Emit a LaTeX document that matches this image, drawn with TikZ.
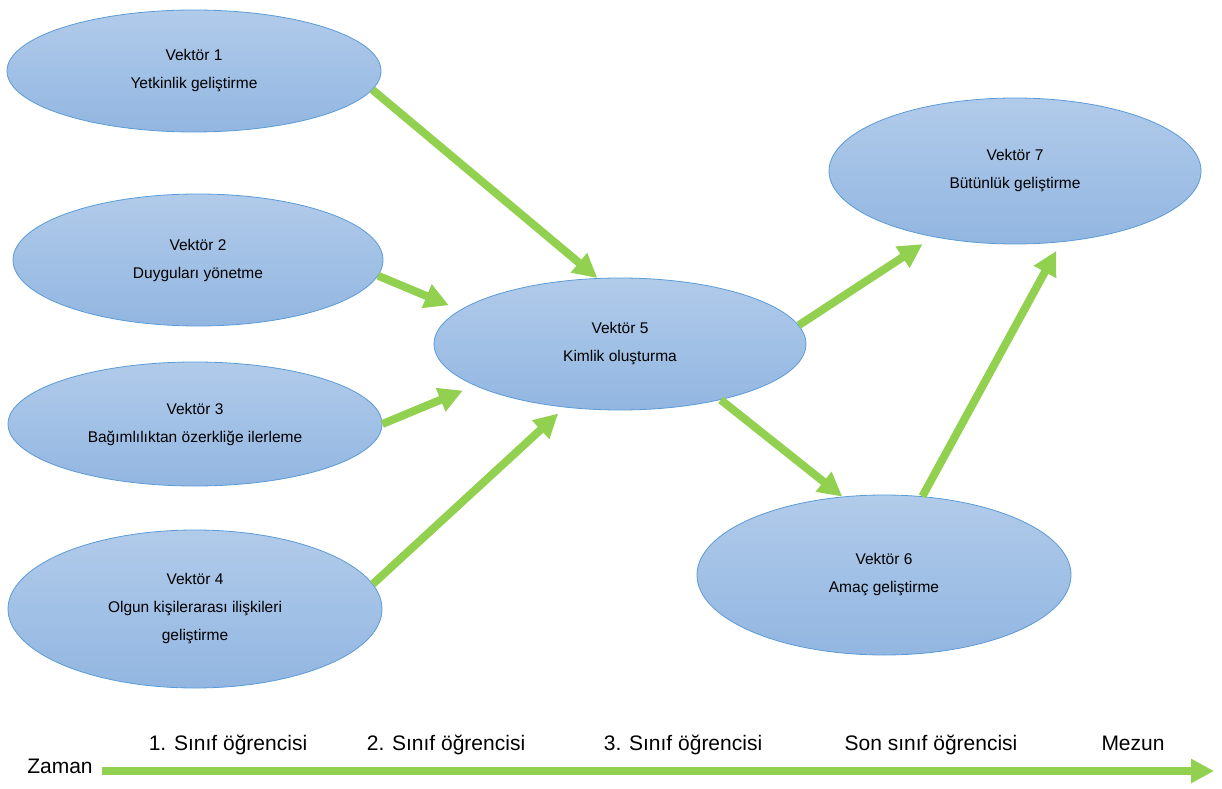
\documentclass[tikz,border=0pt]{standalone}
\usepackage{fontspec}
\setmainfont{Liberation Sans}
\usetikzlibrary{shapes.geometric,arrows.meta}
\definecolor{vborder}{RGB}{91,155,213}
\definecolor{vtop}{RGB}{177,203,234}
\definecolor{vbottom}{RGB}{146,182,225}
\definecolor{flowgreen}{RGB}{146,208,80}
\begin{document}
\begin{tikzpicture}[x=1pt,y=1pt,
vektor/.style ={ellipse, draw=vborder, line width=0.8pt,
  top color=vtop, bottom color=vbottom, inner sep=0pt,
  align=center, font=\fontsize{15.5}{28}\selectfont
},
flow/.style ={draw=flowgreen, line width=8pt,
  -{Triangle[length=24pt,width=24pt]}
},
sinif/.style ={anchor=base, font=\fontsize{21}{24}\selectfont}]
\useasboundingbox (0,0) rectangle (1222,788);
% vectors
\node (v1) at (194,717) [vektor, minimum width=374pt, minimum height=122pt] {Vektör 1\\Yetkinlik geliştirme};
\node (v2) at (198,528) [vektor, minimum width=370pt, minimum height=132pt] {Vektör 2\\Duyguları yönetme};
\node (v3) at (195,364) [vektor, minimum width=374pt, minimum height=124pt] {Vektör 3\\Bağımlılıktan özerkliğe ilerleme};
\node (v4) at (195,179) [vektor, minimum width=374pt, minimum height=158pt] {Vektör 4\\Olgun kişilerarası ilişkileri\\geliştirme};
\node (v5) at (620,444) [vektor, minimum width=372pt, minimum height=132pt] {Vektör 5\\Kimlik oluşturma};
\node (v6) at (884,213) [vektor, minimum width=374pt, minimum height=160pt] {Vektör 6\\Amaç geliştirme};
\node (v7) at (1015,617) [vektor, minimum width=372pt, minimum height=146pt] {Vektör 7\\Bütünlük geliştirme};
% arrows
\draw [flow] (v1.-6) -- (v5.109);
\draw [flow, shorten >=12pt] (v2.-5) -- (v5.168);
\draw [flow, shorten >=13pt] (v3.0) -- (v5.196);
\draw [flow, shorten >=9pt] (v4.8) -- (v5.229);
\draw [flow, shorten >=13pt] (v5.6) -- (v7.219);
\draw [flow] (v5.-29) -- (v6.118);
\draw [flow, shorten >=10pt] (v6.64) -- (v7.-57);
% time line
\node (zaman) at (60,15) [sinif] {Zaman};
\coordinate (baslangic) at (102,17);
\coordinate (mezuniyet) at (1214,17);
\draw [flow, -{Triangle[length=23pt,width=23pt]}] (baslangic) -- (mezuniyet);
\node (s1) at (228,38) [sinif] {1. Sınıf öğrencisi};
\node (s2) at (446,38) [sinif] {2. Sınıf öğrencisi};
\node (s3) at (683,38) [sinif] {3. Sınıf öğrencisi};
\node (s4) at (931,38) [sinif] {Son sınıf öğrencisi};
\node (mezun) at (1133,38) [sinif] {Mezun};
\end{tikzpicture}
\end{document}
